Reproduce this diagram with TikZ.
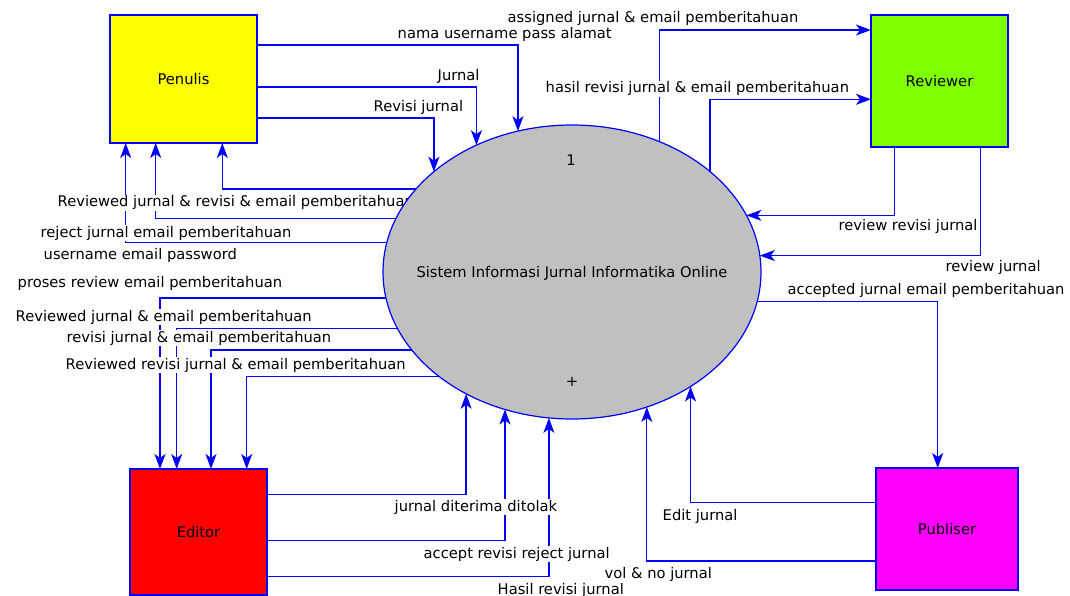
\documentclass[tikz,border=0pt]{standalone}
\usepackage{fontspec}
\setmainfont{DejaVu Sans}
\usetikzlibrary{shapes.geometric,arrows.meta}
\definecolor{penyellow}{RGB}{255,255,0}
\definecolor{revgreen}{RGB}{128,255,0}
\definecolor{edred}{RGB}{255,0,0}
\definecolor{pubmagenta}{RGB}{255,0,255}
\definecolor{procgray}{RGB}{192,192,192}
\definecolor{flowblue}{RGB}{0,0,255}
\pgfdeclarelayer{wires}
\pgfdeclarelayer{captions}
\pgfsetlayers{wires,captions,main}

\begin{document}
\begin{tikzpicture}[x=1pt,y=-1pt,
  every node/.style={font=\fontsize{14.7}{17}\selectfont, text=black},
  entity/.style={rectangle, draw=flowblue, line width=1.5pt, inner sep=0pt, outer sep=0pt},
  process/.style={ellipse, draw=flowblue, line width=1.2pt, fill=procgray, inner sep=0pt, outer sep=0pt,
                  minimum width=378pt, minimum height=294pt},
  flow/.style={draw=flowblue, line width=1.3pt,
               -{Stealth[length=15pt,width=11pt,inset=4pt]}},
  caption/.style={fill=white, inner sep=0.5pt, anchor=base west}]

\useasboundingbox (0,0) rectangle (1070,596);

% external entities and the single process
\node[entity, fill=penyellow,  minimum width=147pt, minimum height=128pt] (pen) at (183.5,79) {Penulis};
\node[entity, fill=revgreen,   minimum width=137pt, minimum height=132pt] (rev) at (939.5,81) {Reviewer};
\node[entity, fill=edred,      minimum width=137pt, minimum height=126pt] (edi) at (198.5,532) {Editor};
\node[entity, fill=pubmagenta, minimum width=142pt, minimum height=122pt] (pub) at (947,529) {Publiser};

\node[process] (sys) at (572,272) {};
\node (sysnum)   at (571,160) {1};
\node (systitle) at (572,273) {Sistem Informasi Jurnal Informatika Online};
\node (sysplus)  at (572,382) {+};

% data flows
\begin{pgfonlayer}{wires}
  \fill[white] (0,0) rectangle (1070,596);
  % Penulis -> system
  \draw[flow] (pen.east |- 0,45)  -| (sys.111.37);
  \draw[flow] (pen.east |- 0,87)  -| (sys.127.17);
  \draw[flow] (pen.east |- 0,118) -| (sys.144.79);
  % system -> Penulis
  \draw[flow] (sys.152.41) -| (pen.south -| 222.3,0);
  \draw[flow] (sys.163.61) -| (pen.south -| 155.7,0);
  \draw[flow] (sys.171.01) -| (pen.south -| 125.7,0);
  % system -> Editor
  \draw[flow] (sys.-172.98) -| (edi.north -| 160,0);
  \draw[flow] (sys.-162.68) -| (edi.north -| 176.7,0);
  \draw[flow] (sys.-154.84) -| (edi.north -| 211,0);
  \draw[flow] (sys.-142.1)  -| (edi.north -| 246.7,0);
  % Editor -> system
  \draw[flow] (edi.east |- 0,494.3) -| (sys.-131.44);
  \draw[flow] (edi.east |- 0,540.7) -| (sys.-116.63);
  \draw[flow] (edi.east |- 0,576.7) -| (sys.-99.85);
  % system -> Reviewer
  \draw[flow] (sys.56.97) |- (rev.west |- 0,30);
  \draw[flow] (sys.36.48) |- (rev.west |- 0,99.3);
  % Reviewer -> system
  \draw[flow] (rev.south -| 894.3,0) |- (sys.18.93);
  \draw[flow] (rev.south -| 980.3,0) |- (sys.5.48);
  % system -> Publiser
  \draw[flow] (sys.-9.31) -| (pub.north -| 937.7,0);
  % Publiser -> system
  \draw[flow] (pub.west |- 0,502.7) -| (sys.-44.90);
  \draw[flow] (pub.west |- 0,561)   -| (sys.-61.04);
\end{pgfonlayer}

% flow captions
\begin{pgfonlayer}{captions}
  \node[caption] (l1)  at (507,23)  {assigned jurnal \& email pemberitahuan};
  \node[caption] (l2)  at (397,39)  {nama username pass alamat};
  \node[caption] (l3)  at (437,81)  {Jurnal};
  \node[caption] (l4)  at (545,93)  {hasil revisi jurnal \& email pemberitahuan};
  \node[caption] (l5)  at (373,112) {Revisi jurnal};
  \node[caption] (l6)  at (57,207)  {Reviewed jurnal \& revisi \& email pemberitahuan};
  \node[caption] (l7)  at (40,237)  {reject jurnal email pemberitahuan};
  \node[caption] (l8)  at (43,259)  {username email password};
  \node[caption] (l9)  at (17,287)  {proses review email pemberitahuan};
  \node[caption] (l10) at (15,321)  {Reviewed jurnal \& email pemberitahuan};
  \node[caption] (l11) at (66,342)  {revisi jurnal \& email pemberitahuan};
  \node[caption] (l12) at (65,369)  {Reviewed revisi jurnal \& email pemberitahuan};
  \node[caption] (l13) at (838,230) {review revisi jurnal};
  \node[caption] (l14) at (945,271) {review jurnal};
  \node[caption] (l15) at (787,294) {accepted jurnal email pemberitahuan};
  \node[caption] (l16) at (394,511) {jurnal diterima ditolak};
  \node[caption] (l17) at (423,558) {accept revisi reject jurnal};
  \node[caption] (l18) at (497,594) {Hasil revisi jurnal};
  \node[caption] (l19) at (662,520) {Edit jurnal};
  \node[caption] (l20) at (604,578) {vol \& no jurnal};
\end{pgfonlayer}

\end{tikzpicture}
\end{document}
